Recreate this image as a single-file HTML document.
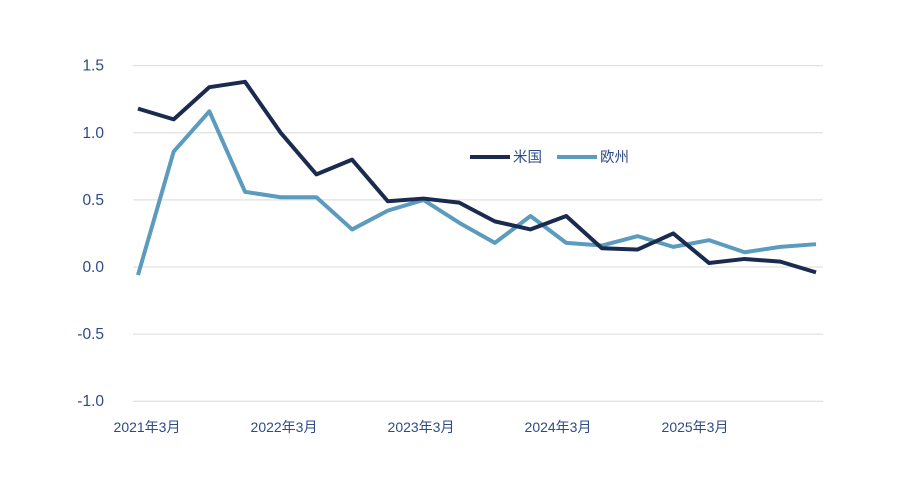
<!DOCTYPE html>
<html><head><meta charset="utf-8"><style>
body{margin:0;background:#fff;}
svg text{font-family:"Liberation Sans","Noto Sans CJK JP",sans-serif;}
</style></head><body>
<svg id="chart" width="912" height="492" xmlns="http://www.w3.org/2000/svg"></svg>
<script>
const categories=["2021Q1","2021Q2","2021Q3","2021Q4","2022Q1","2022Q2","2022Q3","2022Q4","2023Q1","2023Q2","2023Q3","2023Q4","2024Q1","2024Q2","2024Q3","2024Q4","2025Q1","2025Q2","2025Q3","2025Q4"];
const usValues=[1.18,1.10,1.34,1.38,1.00,0.69,0.80,0.49,0.51,0.48,0.34,0.28,0.38,0.14,0.13,0.25,0.03,0.06,0.04,-0.04];
const euValues=[-0.06,0.86,1.16,0.56,0.52,0.52,0.28,0.42,0.50,0.33,0.18,0.38,0.18,0.16,0.23,0.15,0.20,0.11,0.15,0.17];
const yTicks=[1.5,1.0,0.5,0.0,-0.5,-1.0];
const xTickLabels=["2021年3月","2022年3月","2023年3月","2024年3月","2025年3月"];
const NS="http://www.w3.org/2000/svg";
const svg=document.getElementById('chart');
function y(v){return 267-v*134.2;}
function x(i){return 138+i*(816-138)/(categories.length-1);}
function xl(i){return 152+i*137;}
function mk(t,a,p){const e=document.createElementNS(NS,t);for(const k in a)e.setAttribute(k,a[k]);(p||svg).appendChild(e);return e;}
yTicks.forEach(v=>{
  const g=mk('line',{x1:133,x2:823,y1:y(v),y2:y(v),stroke:'#d9d9d9','stroke-width':1});
  
  
  const t=mk('text',{x:104,y:y(v)+5,'text-anchor':'end','font-size':15.5,fill:'#2d4b86'});
  t.textContent=v.toFixed(1);
  
  
});
xTickLabels.forEach((l,i)=>{
  const t=mk('text',{x:xl(i)-5,y:432,'text-anchor':'middle','font-size':14,fill:'#2d4b86'});
  t.textContent=l;
  
  
});
function series(vals,color,name){
  const p=mk('polyline',{points:vals.map((v,i)=>x(i)+','+y(v)).join(' '),fill:'none',stroke:color,'stroke-width':4,'stroke-linejoin':'round'});
  
  
}
series(euValues,'#5b9bbd','eu-line');
series(usValues,'#1a2b4f','us-line');
const legend=[["米国","#1a2b4f",470],["欧州","#5b9bbd",557]];
legend.forEach(([n,c,lx])=>{
  const l=mk('line',{x1:lx,x2:lx+40,y1:157,y2:157,stroke:c,'stroke-width':4});
  
  
  const t=mk('text',{x:lx+43,y:162,'font-size':14.5,fill:'#2d4b86'});
  t.textContent=n;
  
  
});
</script>
</body></html>
